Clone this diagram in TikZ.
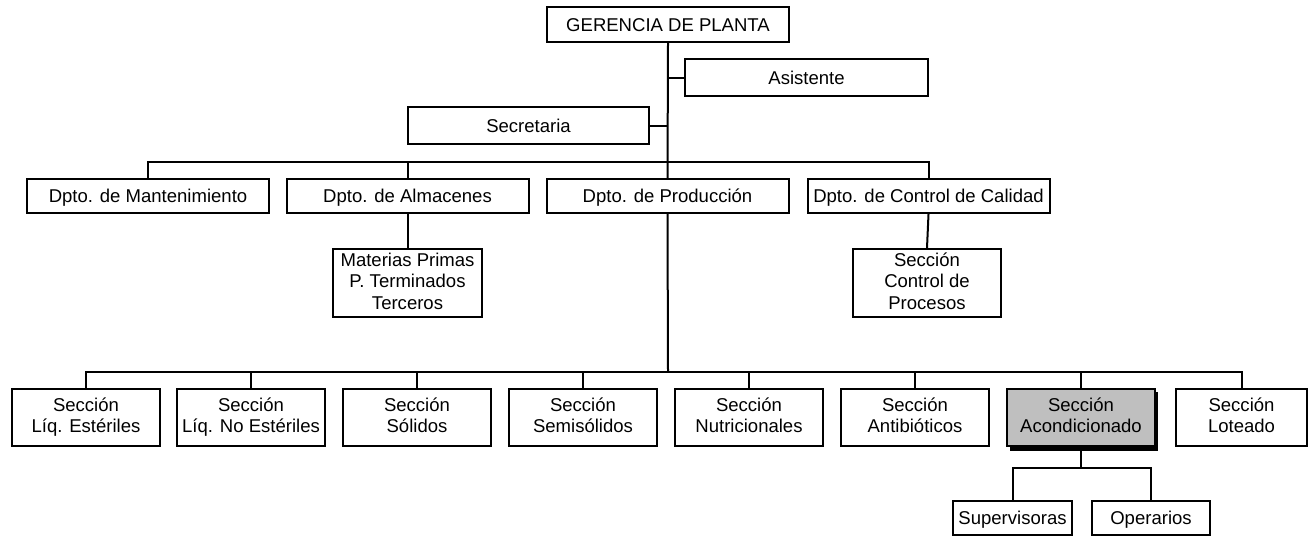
\documentclass[tikz,border=0pt]{standalone}
\usepackage{fontspec}
\setmainfont{Liberation Sans}
\newcommand{\topstrut}{\rule{0pt}{13pt}}
\newcommand{\botstrut}{\rule[-3pt]{0pt}{3pt}}
\begin{document}
\begin{tikzpicture}[x=0.75pt,y=-0.75pt,
  box/.style={draw=black,line width=1.5pt,fill=white,inner sep=0pt,align=center,
    font=\fontsize{13.9}{16}\selectfont,
    execute at begin node=\topstrut, execute at end node=\botstrut},
  conn/.style={draw=black,line width=1.5pt},
  hi/.style={box,fill=black!25}]
\useasboundingbox (0,0) rectangle (1309,536);
% top level
\node[box,minimum width=242*0.75pt,minimum height=35*0.75pt] (ger) at (668,24.5) {GERENCIA DE PLANTA};
\node[box,minimum width=243*0.75pt,minimum height=37*0.75pt] (asi) at (806.5,77.5) {Asistente};
\node[box,minimum width=241*0.75pt,minimum height=37*0.75pt] (sec) at (528.5,125.5) {Secretaria};
% departments
\foreach \n/\x/\t in {mant/148/Dpto. de Mantenimiento, alm/407.5/Dpto. de Almacenes, prod/667.5/Dpto. de Producción, cc/928.5/Dpto. de Control de Calidad}
  \node[box,minimum width=242*0.75pt,minimum height=34*0.75pt] (\n) at (\x,196) {\t};
\node[box,minimum width=149*0.75pt,minimum height=68*0.75pt] (mat) at (407.5,283) {Materias Primas\\P. Terminados\\Terceros};
\node[box,minimum width=148*0.75pt,minimum height=68*0.75pt] (scp) at (927,283) {Sección\\Control de\\Procesos};
% sections
\foreach \n/\x/\t in {s1/86/{Sección\\Líq. Estériles}, s2/251/{Sección\\Líq. No Estériles}, s3/417/{Sección\\Sólidos}, s4/583/{Sección\\Semisólidos}, s5/749/{Sección\\Nutricionales}, s6/915/{Sección\\Antibióticos}}
  \node[box,minimum width=148*0.75pt,minimum height=57*0.75pt] (\n) at (\x,417.5) {\t};
\fill[black] (1010,392) rectangle (1157.5,450.5);
\node[hi,minimum width=148*0.75pt,minimum height=57*0.75pt] (s7) at (1081,417.5) {Sección\\Acondicionado};
\node[box,minimum width=131*0.75pt,minimum height=57*0.75pt] (s8) at (1241.5,417.5) {Sección\\Loteado};
\node[box,minimum width=119*0.75pt,minimum height=34*0.75pt] (sup) at (1012.5,518) {Supervisoras};
\node[box,minimum width=118*0.75pt,minimum height=34*0.75pt] (ope) at (1151,518) {Operarios};
% connectors
\coordinate (bus1) at (668,162);
\coordinate (bus2) at (668,372);
\coordinate (bus3) at (1081,468);
\draw[conn] (ger.south) -- (prod.north);
\draw[conn] (asi.west) -- (asi.west -| ger.south);
\draw[conn] (sec.east) -- (sec.east -| ger.south);
\draw[conn] (mant.north) |- (bus1) -| (cc.north);
\draw[conn] (alm.north) -- (alm.north |- bus1);
\draw[conn] (alm.south) -- (mat.north);
\draw[conn] (cc.south) -- (scp.north);
\draw[conn] (prod.south) -- (bus2);
\draw[conn] (s1.north) |- (bus2) -| (s8.north);
\foreach \n in {s2,s3,s4,s5,s6,s7}
  \draw[conn] (\n.north) -- (\n.north |- bus2);
\draw[conn] (s7.south) -- (bus3);
\draw[conn] (sup.north) |- (bus3) -| (ope.north);
\end{tikzpicture}
\end{document}
